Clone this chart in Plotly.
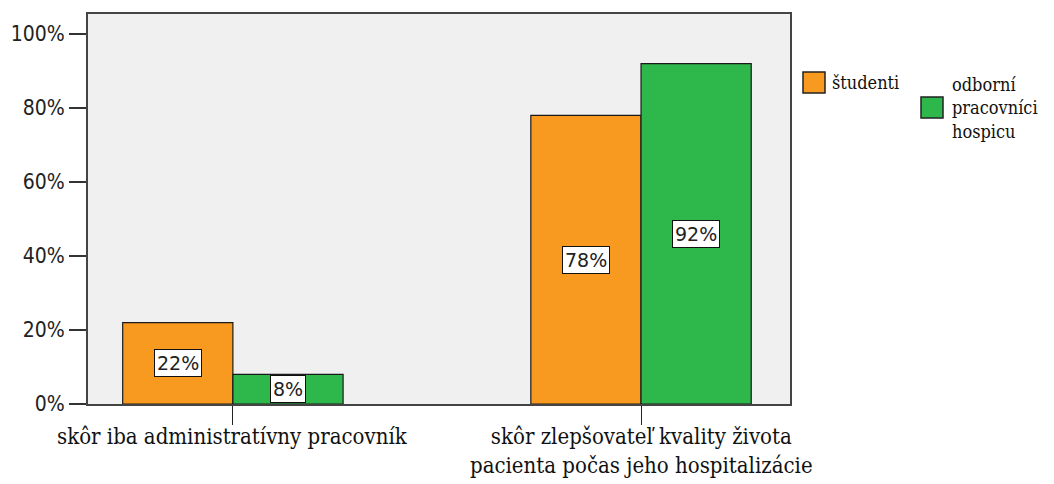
import plotly.graph_objects as go

categories = ["skôr iba administratívny pracovník",
              "skôr zlepšovateľ kvality života<br>pacienta počas jeho hospitalizácie"]
studenti = [22, 78]
odbornici = [8, 92]
series_names = ["študenti", "odborní<br>pracovníci<br>hospicu"]
y_ticks = [0, 20, 40, 60, 80, 100]
y_tick_labels = ["0%", "20%", "40%", "60%", "80%", "100%"]

ORANGE = "#F89A1F"
GREEN = "#2EB84B"
BAR_W = 0.27
xpos = list(range(len(categories)))

W, H = 1054, 484
ML, MR, MT, MB = 88, 264, 14, 80
PW, PH = W - ML - MR, H - MT - MB


def px_x(p):
    return (p - ML) / PW


def px_y(p):
    return (H - MB - p) / PH


fig = go.Figure()
fig.add_trace(go.Bar(x=xpos, y=studenti, name=series_names[0], width=BAR_W, offset=-BAR_W,
                     marker=dict(color=ORANGE, line=dict(color="#1a1a1a", width=1.2)),
                     showlegend=False))
fig.add_trace(go.Bar(x=xpos, y=odbornici, name=series_names[1], width=BAR_W, offset=0,
                     marker=dict(color=GREEN, line=dict(color="#1a1a1a", width=1.2)),
                     showlegend=False))

# value labels in white boxes at bar mid-height
for vals, shift in ((studenti, -BAR_W / 2), (odbornici, BAR_W / 2)):
    for xi, v in zip(xpos, vals):
        fig.add_annotation(x=xi + shift, y=v / 2, xref="x", yref="y", text=f"{v}%",
                           showarrow=False, bgcolor="white", bordercolor="#111",
                           borderwidth=1, borderpad=2,
                           font=dict(family="DejaVu Sans", size=19, color="#222"))

# category labels under the tick marks
for xi, cat in zip(xpos, categories):
    fig.add_annotation(x=xi, y=px_y(422), xref="x", yref="paper", text=cat,
                       xanchor="center", yanchor="top", align="center", showarrow=False,
                       font=dict(family="DejaVu Serif Condensed", size=22, color="#111"))

# legend: swatches + labels
legend_items = [
    (series_names[0], ORANGE, 803, 72, 830, 82),
    (series_names[1], GREEN, 921, 97, 950, 108),
]
for name, color, sx, sy, tx, ty in legend_items:
    fig.add_shape(type="rect", xref="paper", yref="paper",
                  x0=px_x(sx), x1=px_x(sx + 22), y0=px_y(sy), y1=px_y(sy + 21),
                  fillcolor=color, line=dict(color="#222", width=1.5))
    fig.add_annotation(xref="paper", yref="paper", x=px_x(tx), y=px_y(ty),
                       xanchor="left", yanchor="middle", align="left", showarrow=False,
                       text=name,
                       font=dict(family="DejaVu Serif Condensed", size=18, color="#111"))

fig.update_layout(
    width=W, height=H,
    margin=dict(l=ML, r=MR, t=MT, b=MB),
    paper_bgcolor="white", plot_bgcolor="#F0F0F0",
    barmode="overlay",
    xaxis=dict(range=[-0.355, 1.365], tickvals=xpos, showticklabels=False,
               ticks="outside", ticklen=19, tickcolor="#222", tickwidth=1.2,
               showline=True, linecolor="#444", linewidth=2, mirror=True,
               showgrid=False, zeroline=False, automargin=False),
    yaxis=dict(range=[0, 105.4], tickvals=y_ticks, ticktext=y_tick_labels,
               ticks="outside", ticklen=17, tickcolor="#333", tickwidth=2,
               showline=True, linecolor="#444", linewidth=2, mirror=True,
               showgrid=False, zeroline=False, automargin=False,
               tickfont=dict(family="DejaVu Sans Condensed", size=21, color="#222")),
)

fig.write_html("out.html")
